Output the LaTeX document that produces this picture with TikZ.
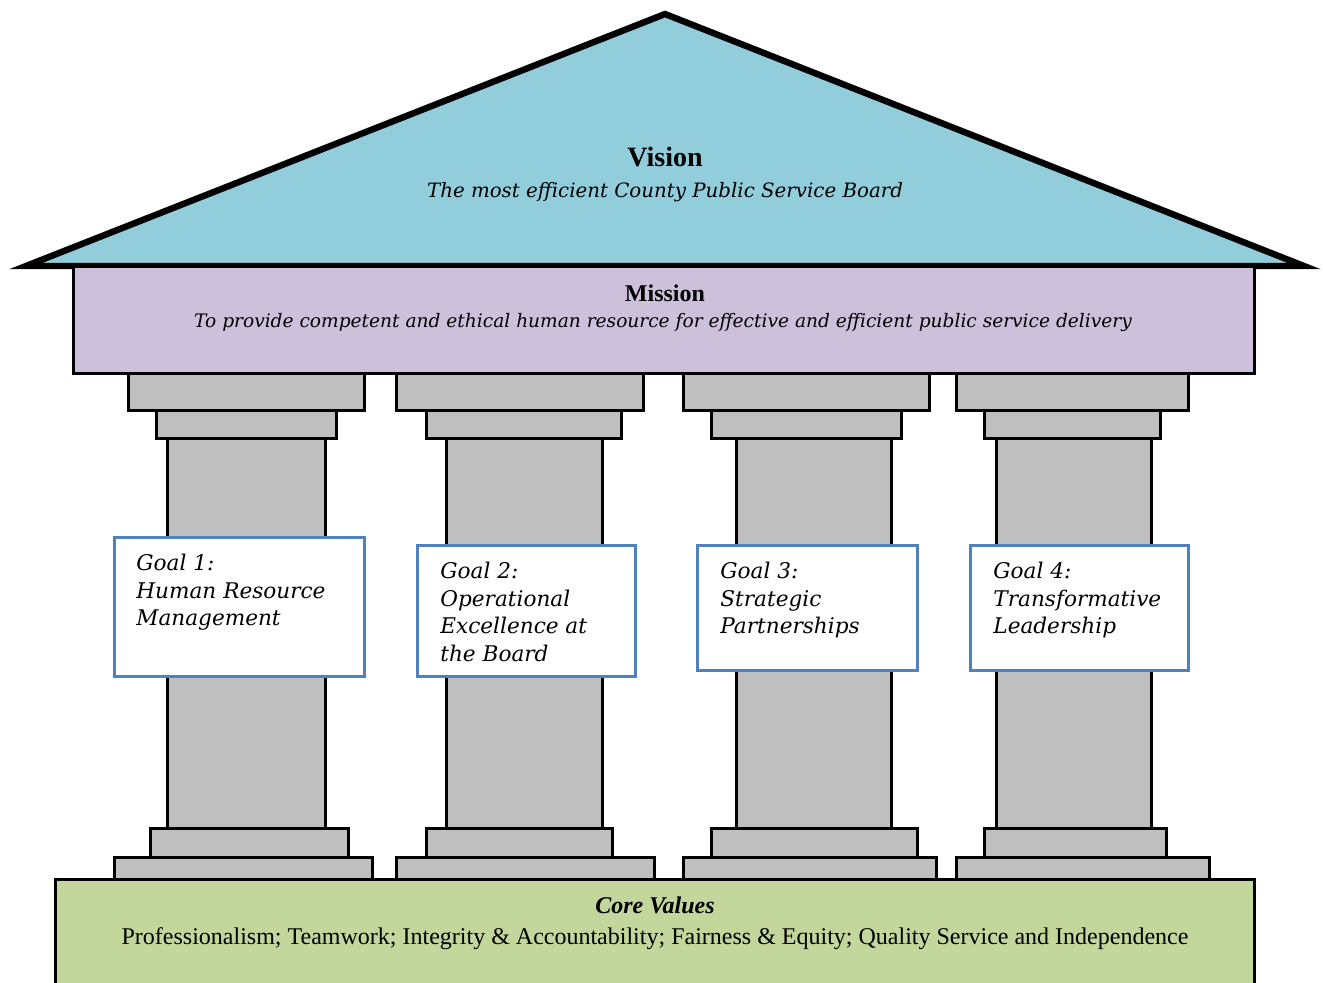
\documentclass[tikz,border=0pt]{standalone}
\usepackage{fontspec}
\setmainfont{Liberation Serif}
\newfontfamily\goalfont{DejaVu Serif}
\usetikzlibrary{positioning}

\definecolor{roofblue}{HTML}{92CDDC}
\definecolor{missionpurple}{HTML}{CCC0DA}
\definecolor{coregreen}{HTML}{C3D69B}
\definecolor{pillargray}{HTML}{BFBFBF}
\definecolor{goalblue}{HTML}{4F81BD}

\begin{document}
\begin{tikzpicture}[x=0.5pt,y=-0.5pt]

	\tikzset{block/.style={draw=black,line width=1.5pt,fill=pillargray},
	         goalbox/.style={draw=goalblue,line width=1.5pt,fill=white},
	         goaltext/.style={anchor=north west,align=left,inner sep=0pt,
	                          font=\goalfont\itshape\fontsize{10.8}{13.75}\selectfont},
	         title/.style={inner sep=0pt,font=\bfseries\fontsize{12}{14}\selectfont},
	         subtitle/.style={inner sep=0pt,font=\goalfont\itshape\fontsize{9.9}{12}\selectfont}}

	\useasboundingbox (0,0) rectangle (1323,982);

	% roof
	\draw[line width=3.2pt,fill=roofblue] (26,266) -- (665,14) -- (1304,266) -- cycle;
	\node[title,font=\bfseries\fontsize{14}{16}\selectfont] (vision) at (665,157) {Vision};
	\node[subtitle] (visiontext) at (665,192) {The most efficient County Public Service Board};

	% beam
	\draw[line width=1.5pt,fill=missionpurple] (73,266) rectangle (1254,373);
	\node[title] (mission) at (665,293) {Mission};
	\node[subtitle,font=\goalfont\itshape\fontsize{9.3}{12}\selectfont] (missiontext) at (663,322)
	    {To provide competent and ethical human resource for effective and efficient public service delivery};

	% pillars: capital, neck, shaft, upper base, lower base
	\foreach \ca/\cb/\na/\nb/\sa/\sb/\ua/\ub/\la/\lb in
	    {128/364/156/336/167/325/150/348/114/372,
	     396/643/426/621/446/602/426/612/396/654,
	     683/929/711/901/736/891/711/917/683/936,
	     956/1188/984/1160/996/1151/984/1166/956/1209}
	{
	    \draw[block] (\sa,436) rectangle (\sb,830);
	    \draw[block] (\na,410) rectangle (\nb,438);
	    \draw[block] (\ca,373) rectangle (\cb,410);
	    \draw[block] (\ua,828) rectangle (\ub,857);
	    \draw[block] (\la,857) rectangle (\lb,879);
	}

	% foundation
	\draw[line width=1.5pt,fill=coregreen] (55,879) rectangle (1254,1000);
	\node[title,font=\bfseries\itshape\fontsize{12}{14}\selectfont] (core) at (655,905) {Core Values};
	\node[inner sep=0pt,font=\fontsize{12}{14}\selectfont] (coretext) at (655,939)
	    {Professionalism; Teamwork; Integrity \& Accountability; Fairness \& Equity; Quality Service and Independence};

	% goals
	\draw[goalbox] (114,537) rectangle (364,676);
	\node[goaltext] (goal1) at (136,554) {Goal 1:\\Human Resource\\Management};
	\draw[goalbox] (417,545) rectangle (635,676);
	\node[goaltext] (goal2) at (440,562) {Goal 2:\\Operational\\Excellence at\\the Board};
	\draw[goalbox] (697,545) rectangle (917,670);
	\node[goaltext] (goal3) at (720,562) {Goal 3:\\Strategic\\Partnerships};
	\draw[goalbox] (970,545) rectangle (1188,670);
	\node[goaltext] (goal4) at (993,562) {Goal 4:\\Transformative\\Leadership};

\end{tikzpicture}
\end{document}
